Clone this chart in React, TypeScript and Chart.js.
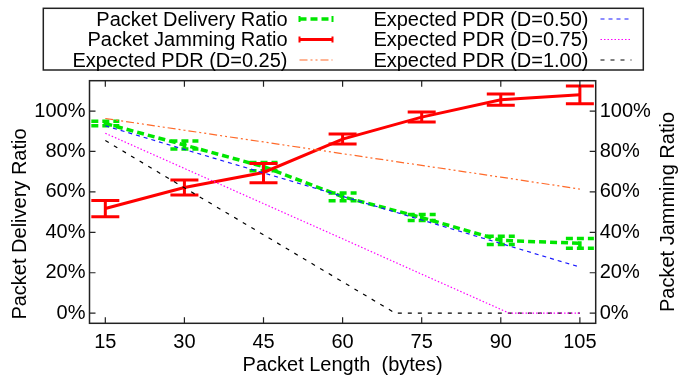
import React, { useEffect, useRef } from 'react';
import { Chart, registerables } from 'chart.js';

Chart.register(...registerables);

// ---------- data ----------
const packetLengths = [15, 30, 45, 60, 75, 90, 105];
const xTickValues = [15, 30, 45, 60, 75, 90, 105];
const yTickValues = [0, 20, 40, 60, 80, 100];

const pdrMean = [93.8, 83.2, 72.5, 57.6, 47.3, 36.0, 34.6];
const pdrLow = [92.7, 81.2, 70.5, 55.6, 45.8, 34.0, 32.1];
const pdrHigh = [95.0, 85.2, 74.5, 59.5, 48.8, 38.0, 37.0];

const pjrMean = [51.8, 62.2, 69.6, 86.1, 97.0, 105.6, 108.0];
const pjrLow = [47.7, 58.5, 64.5, 83.7, 94.6, 102.8, 103.6];
const pjrHigh = [55.8, 65.9, 74.1, 88.6, 99.5, 108.4, 112.4];

const exp025 = [96.3, 90.5, 84.7, 78.9, 73.1, 67.3, 61.4];
const exp050 = [92.7, 81.0, 69.4, 57.8, 46.1, 34.5, 22.8];
const exp075Lengths = [15, 30, 45, 60, 75, 90, 91.6, 105];
const exp075 = [89.0, 71.6, 54.2, 36.8, 19.3, 1.9, 0, 0];
const exp100Lengths = [15, 30, 45, 60, 70, 75, 90, 105];
const exp100 = [85.4, 62.0, 38.8, 15.5, 0, 0, 0, 0];

const FONT = '"Liberation Sans", Arial, Helvetica, sans-serif';
const FS = 20;

const pts = (xs: number[], ys: number[]) => xs.map((x, i) => ({ x, y: ys[i] }));

const GREEN = '#00e600';
const RED = '#ff0000';
const ORANGE = '#ff6a2a';
const BLUE = '#1a1aff';
const MAGENTA = '#ff00ff';
const BLACK = '#000000';

type LegendItem = { text: string; color: string; width: number; dash: number[]; caps: boolean };
const legendCol1: LegendItem[] = [
  { text: 'Packet Delivery Ratio', color: GREEN, width: 3.5, dash: [7, 4], caps: true },
  { text: 'Packet Jamming Ratio', color: RED, width: 3, dash: [], caps: true },
  { text: 'Expected PDR (D=0.25)', color: ORANGE, width: 1.2, dash: [8, 3, 2, 3, 2, 3], caps: false },
];
const legendCol2: LegendItem[] = [
  { text: 'Expected PDR (D=0.50)', color: BLUE, width: 1.2, dash: [4, 4], caps: false },
  { text: 'Expected PDR (D=0.75)', color: MAGENTA, width: 1.2, dash: [1.5, 2], caps: false },
  { text: 'Expected PDR (D=1.00)', color: BLACK, width: 1.2, dash: [4, 6], caps: false },
];

const errorSpecs: Record<number, { low: number[]; high: number[]; color: string; width: number; dash: number[]; axis: string }> = {
  0: { low: pdrLow, high: pdrHigh, color: GREEN, width: 3.5, dash: [7, 4], axis: 'y' },
  1: { low: pjrLow, high: pjrHigh, color: RED, width: 3, dash: [], axis: 'y2' },
};

const decorPlugin = {
  id: 'decor',
  afterDatasetDraw(chart: any, args: any) {
    const spec = errorSpecs[args.index];
    if (!spec) return;
    const ctx = chart.ctx;
    const xs = chart.scales.x;
    const ys = chart.scales[spec.axis];
    ctx.save();
    ctx.strokeStyle = spec.color;
    ctx.lineWidth = spec.width;
    ctx.setLineDash(spec.dash);
    packetLengths.forEach((len, i) => {
      const px = xs.getPixelForValue(len);
      const pl = ys.getPixelForValue(spec.low[i]);
      const ph = ys.getPixelForValue(spec.high[i]);
      const hw = 14;
      ctx.beginPath();
      ctx.moveTo(px, pl);
      ctx.lineTo(px, ph);
      ctx.moveTo(px - hw, pl);
      ctx.lineTo(px + hw, pl);
      ctx.moveTo(px - hw, ph);
      ctx.lineTo(px + hw, ph);
      ctx.stroke();
    });
    ctx.restore();
  },
  afterDraw(chart: any) {
    const ctx = chart.ctx;
    const { left, right, top, bottom } = chart.chartArea;
    const xs = chart.scales.x;
    const ys = chart.scales.y;
    const ys2 = chart.scales.y2;
    ctx.save();
    // frame
    ctx.strokeStyle = '#222';
    ctx.lineWidth = 1.5;
    ctx.setLineDash([]);
    ctx.strokeRect(left, top, right - left, bottom - top);
    // ticks (inward, mirrored)
    const tl = 6;
    ctx.lineWidth = 1.2;
    ctx.beginPath();
    xTickValues.forEach((v) => {
      const px = xs.getPixelForValue(v);
      ctx.moveTo(px, bottom);
      ctx.lineTo(px, bottom - tl);
      ctx.moveTo(px, top);
      ctx.lineTo(px, top + tl);
    });
    yTickValues.forEach((v) => {
      const py = ys.getPixelForValue(v);
      ctx.moveTo(left, py);
      ctx.lineTo(left + tl, py);
      const py2 = ys2.getPixelForValue(v);
      ctx.moveTo(right, py2);
      ctx.lineTo(right - tl, py2);
    });
    ctx.stroke();

    // axis titles
    ctx.fillStyle = '#000';
    ctx.font = `${FS}px ${FONT}`;
    ctx.textAlign = 'center';
    ctx.textBaseline = 'middle';
    ctx.fillText('Packet Length  (bytes)', (left + right) / 2, 365);
    ctx.save();
    ctx.translate(20, 224);
    ctx.rotate(-Math.PI / 2);
    ctx.fillText('Packet Delivery Ratio', 0, 0);
    ctx.restore();
    ctx.save();
    ctx.translate(668, 212);
    ctx.rotate(-Math.PI / 2);
    ctx.fillText('Packet Jamming Ratio', 0, 0);
    ctx.restore();

    // legend box
    ctx.strokeStyle = '#222';
    ctx.lineWidth = 1.5;
    ctx.strokeRect(43.3, 8.3, 600, 61.7);
    const rows = [19, 39.5, 60];
    const drawCol = (items: LegendItem[], textRight: number, s0: number, s1: number) => {
      items.forEach((it, i) => {
        const y = rows[i];
        ctx.fillStyle = '#000';
        ctx.textAlign = 'right';
        ctx.textBaseline = 'middle';
        ctx.fillText(it.text, textRight, y + 1);
        ctx.strokeStyle = it.color;
        ctx.lineWidth = it.width;
        ctx.setLineDash(it.dash);
        ctx.beginPath();
        ctx.moveTo(s0, y);
        ctx.lineTo(s1, y);
        ctx.stroke();
        if (it.caps) {
          ctx.setLineDash([]);
          ctx.lineWidth = 2;
          ctx.beginPath();
          ctx.moveTo(s0, y - 3);
          ctx.lineTo(s0, y + 3);
          ctx.moveTo(s1, y - 3);
          ctx.lineTo(s1, y + 3);
          ctx.stroke();
        }
        ctx.setLineDash([]);
      });
    };
    drawCol(legendCol1, 287.5, 299.5, 332.5);
    drawCol(legendCol2, 588.5, 600.5, 631.5);
    ctx.restore();
  },
};

export default function App() {
  const ref = useRef<HTMLCanvasElement | null>(null);
  useEffect(() => {
    document.body.style.margin = '0';
    const canvas = ref.current;
    if (!canvas) return;
    const tickFont = { family: FONT, size: FS };
    const pctTick = (v: any) => `${v}%`;
    const chart = new Chart(canvas, {
      type: 'line',
      data: {
        datasets: [
          {
            label: 'Packet Delivery Ratio',
            data: pts(packetLengths, pdrMean),
            borderColor: GREEN,
            borderWidth: 3.5,
            borderDash: [7, 4],
            yAxisID: 'y',
            order: 3,
          },
          {
            label: 'Packet Jamming Ratio',
            data: pts(packetLengths, pjrMean),
            borderColor: RED,
            borderWidth: 3,
            yAxisID: 'y2',
            order: 2,
          },
          {
            label: 'Expected PDR (D=0.25)',
            data: pts(packetLengths, exp025),
            borderColor: ORANGE,
            borderWidth: 1.2,
            borderDash: [8, 3, 2, 3, 2, 3],
            yAxisID: 'y',
            order: 1,
          },
          {
            label: 'Expected PDR (D=0.50)',
            data: pts(packetLengths, exp050),
            borderColor: BLUE,
            borderWidth: 1.2,
            borderDash: [4, 4],
            yAxisID: 'y',
            order: 1,
          },
          {
            label: 'Expected PDR (D=0.75)',
            data: pts(exp075Lengths, exp075),
            borderColor: MAGENTA,
            borderWidth: 1.2,
            borderDash: [1.5, 2],
            yAxisID: 'y',
            order: 0,
          },
          {
            label: 'Expected PDR (D=1.00)',
            data: pts(exp100Lengths, exp100),
            borderColor: BLACK,
            borderWidth: 1.2,
            borderDash: [4, 6],
            yAxisID: 'y',
            order: 1,
          },
        ],
      },
      options: {
        responsive: false,
        animation: false,
        clip: false as any,
        elements: { point: { radius: 0, hoverRadius: 0 }, line: { tension: 0, fill: false } },
        layout: { padding: { top: 80.7, left: 0, right: 0, bottom: 0 } },
        plugins: { legend: { display: false }, tooltip: { enabled: false }, title: { display: false } },
        scales: {
          x: {
            type: 'linear',
            min: 12,
            max: 108,
            afterBuildTicks: (s: any) => {
              s.ticks = xTickValues.map((v) => ({ value: v }));
            },
            afterFit: (s: any) => {
              s.height = 57.7;
            },
            grid: { display: false, drawTicks: false },
            border: { display: false },
            ticks: { font: tickFont, color: '#000', padding: 7, maxRotation: 0, autoSkip: false },
          },
          y: {
            type: 'linear',
            position: 'left',
            min: -5,
            max: 115,
            afterBuildTicks: (s: any) => {
              s.ticks = yTickValues.map((v) => ({ value: v }));
            },
            afterFit: (s: any) => {
              s.width = 89.5;
            },
            grid: { display: false, drawTicks: false },
            border: { display: false },
            ticks: { font: tickFont, color: '#000', padding: 4, callback: pctTick },
          },
          y2: {
            type: 'linear',
            position: 'right',
            min: -5,
            max: 115,
            afterBuildTicks: (s: any) => {
              s.ticks = yTickValues.map((v) => ({ value: v }));
            },
            afterFit: (s: any) => {
              s.width = 95.3;
            },
            grid: { display: false, drawTicks: false },
            border: { display: false },
            ticks: { font: tickFont, color: '#000', padding: 4, callback: pctTick },
          },
        },
      },
      plugins: [decorPlugin],
    } as any);
    return () => chart.destroy();
  }, []);
  return <canvas ref={ref} width={691} height={381} style={{ display: 'block' }} />;
}
